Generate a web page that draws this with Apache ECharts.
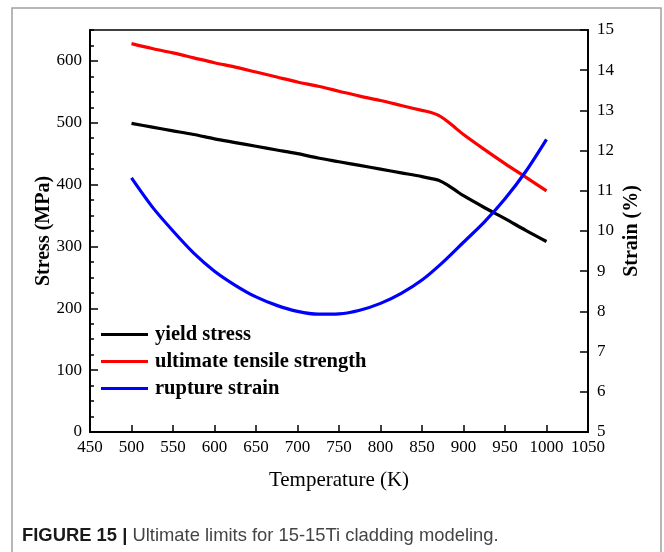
<!DOCTYPE html>
<html>
<head>
<meta charset="utf-8">
<script src="https://cdn.jsdelivr.net/npm/echarts@6/dist/echarts.min.js"></script>
<style>
html,body{margin:0;padding:0;background:#fff;}
#chart{width:664px;height:552px;}
</style>
</head>
<body>
<div id="chart"></div>
<script>
// Data
var temperature = [500, 525, 550, 575, 600, 625, 650, 675, 700, 725, 750, 775, 800, 825, 850, 860, 870, 880, 890, 900, 925, 950, 975, 1000];
var yieldStress = [499, 493, 487, 481, 474, 468, 462, 456, 450, 443, 437, 431, 425, 419, 413, 410, 407, 400, 391, 382, 363, 345, 326, 308];
var ultimateStrength = [628, 620, 613, 605, 597, 590, 582, 574, 566, 559, 551, 543, 536, 528, 520, 517, 512, 503, 492, 481, 457, 434, 412, 390];
var strainTemperature = [500, 525, 550, 575, 600, 625, 650, 675, 700, 725, 750, 775, 800, 825, 850, 875, 900, 925, 950, 975, 1000];
var ruptureStrain = [11.32, 10.6, 10.0, 9.45, 9.0, 8.65, 8.36, 8.15, 8.0, 7.93, 7.94, 8.03, 8.2, 8.45, 8.78, 9.22, 9.72, 10.22, 10.8, 11.48, 12.28];
var xTicks = {min: 450, max: 1050, step: 50};
var stressTicks = {min: 0, max: 650, step: 100, minorStep: 25};
var strainTicks = {min: 5, max: 15, step: 1};
var seriesNames = ['yield stress', 'ultimate tensile strength', 'rupture strain'];
var captionBold = 'FIGURE 15 |';
var captionText = ' Ultimate limits for 15-15Ti cladding modeling.';

function pairs(xs, ys) { return xs.map(function (x, i) { return [x, ys[i]]; }); }

var serif = 'Liberation Serif';
var chart = echarts.init(document.getElementById('chart'), null, {renderer: 'canvas'});
var axisLabelStyle = {fontFamily: serif, fontSize: 17, color: '#000', formatter: function (v) { return String(v); }};
var nameStyle = {fontFamily: serif, fontSize: 20, fontWeight: 'bold', color: '#000'};

chart.setOption({
  animation: false,
  backgroundColor: '#fff',
  grid: {left: 90, right: 76, top: 30, bottom: 120, show: true, borderColor: '#000', borderWidth: 1.5, backgroundColor: 'transparent'},
  legend: {
    orient: 'vertical', left: 96, top: 319, itemGap: 6,
    itemWidth: 47, itemHeight: 3, icon: 'rect',
    textStyle: {fontFamily: serif, fontSize: 20.5, fontWeight: 'bold', color: '#000', padding: [0, 0, 0, 2]},
    data: seriesNames
  },
  xAxis: {
    type: 'value', min: xTicks.min, max: xTicks.max, interval: xTicks.step,
    name: 'Temperature (K)', nameLocation: 'middle', nameGap: 38,
    nameTextStyle: {fontFamily: serif, fontSize: 21, color: '#000'},
    axisLine: {show: true, lineStyle: {color: '#000', width: 2}},
    axisTick: {show: true, inside: true, length: 7, lineStyle: {color: '#000', width: 1.5}},
    axisLabel: Object.assign({margin: 7}, axisLabelStyle),
    splitLine: {show: false}
  },
  yAxis: [
    {
      type: 'value', position: 'left', min: stressTicks.min, max: stressTicks.max, interval: stressTicks.step,
      name: 'Stress (MPa)', nameLocation: 'middle', nameGap: 36, nameRotate: 90, nameMoveOverlap: false,
      nameTextStyle: nameStyle,
      axisLine: {show: true, lineStyle: {color: '#000', width: 2}},
      axisTick: {show: true, inside: true, length: 8, lineStyle: {color: '#000', width: 1.5}},
      axisLabel: Object.assign({margin: 8, showMaxLabel: false}, axisLabelStyle),
      splitLine: {show: false}
    },
    {
      type: 'value', position: 'right', min: strainTicks.min, max: strainTicks.max, interval: strainTicks.step,
      name: 'Strain (%)', nameLocation: 'middle', nameGap: 34, nameRotate: 90, nameMoveOverlap: false,
      nameTextStyle: nameStyle,
      axisLine: {show: true, lineStyle: {color: '#000', width: 2}},
      axisTick: {show: true, inside: true, length: 8, lineStyle: {color: '#000', width: 1.5}},
      axisLabel: Object.assign({margin: 9}, axisLabelStyle),
      splitLine: {show: false}
    },
    {
      type: 'value', position: 'left', min: stressTicks.min, max: stressTicks.max, interval: stressTicks.minorStep,
      axisLine: {show: false},
      axisTick: {show: true, inside: true, length: 4, lineStyle: {color: '#000', width: 1.5}},
      axisLabel: {show: false},
      splitLine: {show: false}
    }
  ],
  series: [
    {name: seriesNames[0], type: 'line', yAxisIndex: 0, smooth: 0.3, showSymbol: false, data: pairs(temperature, yieldStress), lineStyle: {color: '#000', width: 3.2}, itemStyle: {color: '#000'}},
    {name: seriesNames[1], type: 'line', yAxisIndex: 0, smooth: 0.3, showSymbol: false, data: pairs(temperature, ultimateStrength), lineStyle: {color: '#ff0000', width: 3.2}, itemStyle: {color: '#ff0000'}},
    {name: seriesNames[2], type: 'line', yAxisIndex: 1, smooth: 0.3, showSymbol: false, data: pairs(strainTemperature, ruptureStrain), lineStyle: {color: '#0000ff', width: 3.2}, itemStyle: {color: '#0000ff'}}
  ],
  graphic: [
    {type: 'rect', shape: {x: 12, y: 8, width: 649, height: 580}, style: {fill: 'none', stroke: '#a0a0a0', lineWidth: 1.5}, silent: true, z: -1},
    {type: 'text', left: 22, top: 527, style: {
      text: '{b|' + captionBold + '}{r|' + captionText + '}',
      rich: {
        b: {fontFamily: 'Liberation Sans', fontSize: 18.4, fontWeight: 'bold', fill: '#1a1a1a'},
        r: {fontFamily: 'Liberation Sans', fontSize: 18.4, fill: '#444'}
      }
    }}
  ]
});
</script>
</body>
</html>
